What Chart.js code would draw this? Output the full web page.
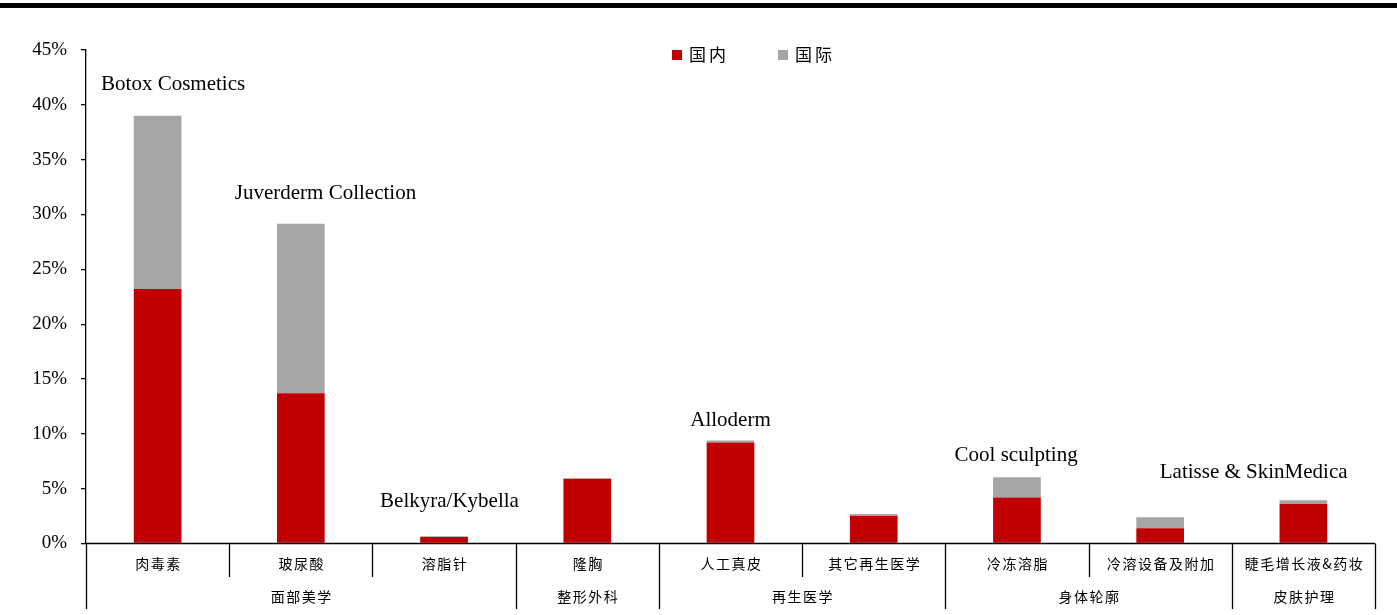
<!DOCTYPE html>
<html><head><meta charset="utf-8">
<script src="https://cdn.jsdelivr.net/npm/chart.js@4.4.1/dist/chart.umd.min.js"></script>
<style>html,body{margin:0;padding:0;background:#fff;}#wrap{width:1397px;height:615px;position:relative;}</style>
</head><body><div id="wrap"><canvas id="c" width="1397" height="615"></canvas></div>
<script>
const categories = ['肉毒素','玻尿酸','溶脂针','隆胸','人工真皮','其它再生医学','冷冻溶脂','冷溶设备及附加','睫毛增长液&药妆'];
const groups = ['面部美学','整形外科','再生医学','身体轮廓','皮肤护理'];
const groupSpans = [[0,2],[3,3],[4,5],[6,7],[8,8]];
const domestic = [23.2, 13.7, 0.6, 5.9, 9.2, 2.5, 4.2, 1.4, 3.6];
const international = [15.8, 15.45, 0.05, 0.05, 0.2, 0.2, 1.85, 1.0, 0.35];
const seriesNames = ['国内','国际'];
const yTicks = [0,5,10,15,20,25,30,35,40,45];
const annotations = ['Botox Cosmetics','Juverderm Collection','Belkyra/Kybella','Alloderm','Cool sculpting','Latisse & SkinMedica'];
const annoX = [0.108, 1.172, 2.038, 4.0, 5.994, 7.653];
const annoY = [41.9, 31.9, 3.8, 11.25, 8.06, 6.5];

const RED = '#C00000', GREY = '#A5A5A5';
const cjk = '"Noto Sans CJK SC", "Noto Sans CJK JP", sans-serif';

const overlay = {
  id: 'overlay',
  beforeDraw(chart) {
    const ctx = chart.ctx;
    ctx.save();
    ctx.fillStyle = '#fff';
    ctx.fillRect(0, 0, chart.width, chart.height);
    ctx.fillStyle = '#000';
    ctx.fillRect(0, 3, chart.width, 5);
    ctx.restore();
  },
  afterDraw(chart) {
    const ctx = chart.ctx;
    const x = chart.scales.x, y = chart.scales.y;
    const y0 = y.getPixelForValue(0);
    const half = (x.getPixelForValue(1) - x.getPixelForValue(0)) / 2;
    ctx.save();
    ctx.strokeStyle = '#000';
    ctx.lineWidth = 1.3;
    ctx.beginPath();
    ctx.moveTo(x.getPixelForValue(0) - half, y0);
    ctx.lineTo(x.getPixelForValue(categories.length - 1) + half, y0);
    ctx.stroke();
    const groupBounds = new Set();
    groupSpans.forEach(s => { groupBounds.add(s[0]); groupBounds.add(s[1] + 1); });
    for (let k = 0; k <= categories.length; k++) {
      const px = Math.round(x.getPixelForValue(k) - half) + 0.5;
      const long = groupBounds.has(k);
      ctx.beginPath();
      ctx.moveTo(px, y0);
      ctx.lineTo(px, long ? 609 : 577);
      ctx.stroke();
    }
    ctx.fillStyle = '#000';
    ctx.textAlign = 'center';
    ctx.textBaseline = 'middle';
    ctx.font = '14px ' + cjk;
    try { ctx.letterSpacing = '1.5px'; } catch (e) {}
    categories.forEach((c, i) => {
      ctx.fillText(c, x.getPixelForValue(i) + 1, 564);
    });
    groups.forEach((g, i) => {
      const s = groupSpans[i];
      const cx = (x.getPixelForValue(s[0]) + x.getPixelForValue(s[1])) / 2;
      ctx.fillText(g, cx + 1, 597);
    });
    ctx.font = '17px ' + cjk;
    try { ctx.letterSpacing = '3px'; } catch (e) {}
    ctx.textAlign = 'left';
    const legendItems = [[672, RED], [778, GREY]];
    legendItems.forEach((it, i) => {
      ctx.fillStyle = it[1];
      ctx.fillRect(it[0], 50, 10, 10);
      ctx.fillStyle = '#000';
      ctx.fillText(seriesNames[i], it[0] + 17, 55);
    });
    try { ctx.letterSpacing = '0px'; } catch (e) {}
    ctx.font = '21px "Liberation Serif", "Times New Roman", serif';
    ctx.textAlign = 'center';
    annotations.forEach((t, i) => {
      ctx.fillText(t, x.getPixelForValue(annoX[i]), y.getPixelForValue(annoY[i]));
    });
    ctx.restore();
  }
};

new Chart(document.getElementById('c'), {
  type: 'bar',
  data: {
    labels: categories,
    datasets: [
      { label: seriesNames[0], data: domestic, backgroundColor: RED, barPercentage: 0.333, categoryPercentage: 1 },
      { label: seriesNames[1], data: international, backgroundColor: GREY, barPercentage: 0.333, categoryPercentage: 1 }
    ]
  },
  options: {
    responsive: false,
    animation: false,
    devicePixelRatio: 1,
    layout: { padding: { top: 50, right: 22, left: 0, bottom: 0 } },
    plugins: { legend: { display: false }, tooltip: { enabled: false } },
    scales: {
      x: {
        stacked: true,
        grid: { display: false },
        border: { display: false },
        ticks: { display: false },
        afterFit: s => { s.height = 615 - 50 - 493.5; }
      },
      y: {
        stacked: true,
        min: 0, max: 45,
        afterBuildTicks: s => { s.ticks = yTicks.map(v => ({ value: v })); },
        grid: { drawOnChartArea: false, color: '#000', tickLength: 5, lineWidth: 1.3 },
        border: { display: true, color: '#000', width: 1.3 },
        ticks: {
          color: '#000',
          padding: 14,
          font: { family: '"Liberation Serif", "Times New Roman", serif', size: 19 },
          callback: v => v + '%'
        },
        afterFit: s => { s.width = 86; }
      }
    }
  },
  plugins: [overlay]
});
</script>
</body></html>
